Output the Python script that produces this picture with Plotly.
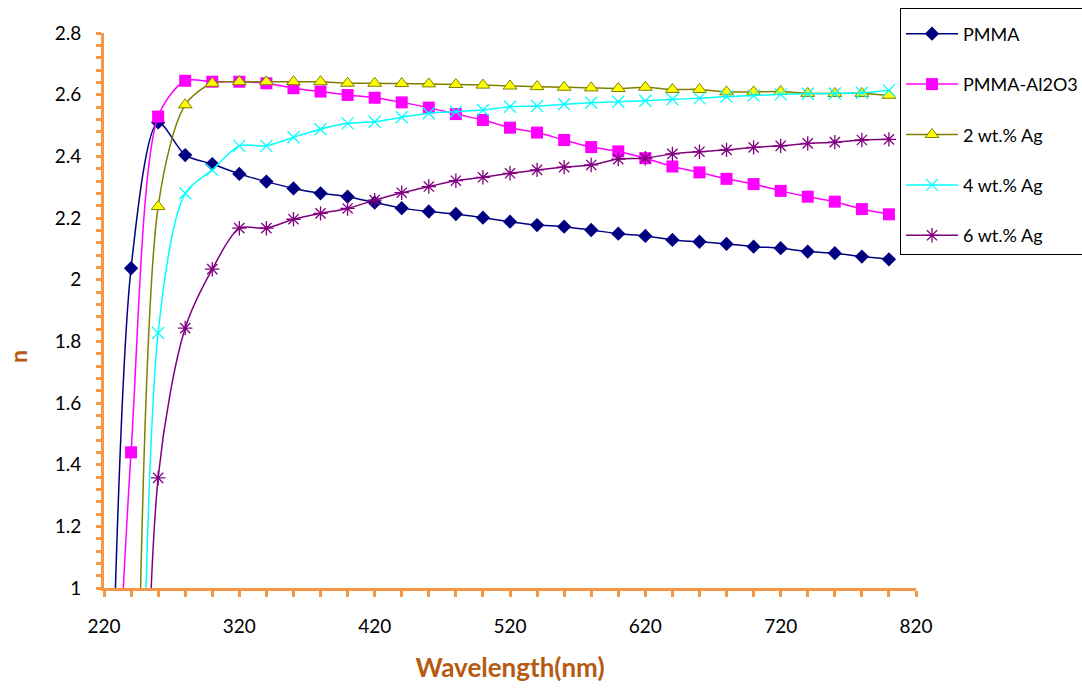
import plotly.graph_objects as go

# Wavelength (nm) grids
wl_a = [220, 240, 260, 280, 300, 320, 340, 360, 380, 400, 420, 440, 460, 480, 500,
        520, 540, 560, 580, 600, 620, 640, 660, 680, 700, 720, 740, 760, 780, 800]
wl_b = wl_a[1:]

# Refractive index n (values below 1 fall outside the displayed axis range)
n_pmma = [-0.5, 2.037, 2.51, 2.404, 2.375, 2.343, 2.318, 2.296, 2.28, 2.269, 2.25,
          2.232, 2.221, 2.213, 2.201, 2.188, 2.177, 2.172, 2.161, 2.149, 2.142, 2.129,
          2.123, 2.116, 2.107, 2.102, 2.091, 2.086, 2.075, 2.066]
n_pmma_al2o3 = [-0.3, 1.44, 2.529, 2.645, 2.642, 2.642, 2.637, 2.621, 2.61, 2.599,
                2.59, 2.575, 2.558, 2.537, 2.518, 2.493, 2.477, 2.453, 2.43, 2.416,
                2.394, 2.367, 2.348, 2.327, 2.31, 2.288, 2.269, 2.253, 2.229, 2.212]
n_ag2 = [-1.2, 2.237, 2.567, 2.637, 2.642, 2.642, 2.642, 2.642, 2.637, 2.637, 2.636,
         2.635, 2.633, 2.631, 2.628, 2.626, 2.624, 2.622, 2.62, 2.624, 2.617, 2.617,
         2.609, 2.609, 2.61, 2.604, 2.604, 2.604, 2.598]
n_ag4 = [-2.4, 1.827, 2.28, 2.356, 2.434, 2.434, 2.462, 2.488, 2.507, 2.512, 2.527,
         2.54, 2.545, 2.55, 2.561, 2.563, 2.569, 2.574, 2.577, 2.58, 2.585, 2.588,
         2.594, 2.597, 2.601, 2.603, 2.604, 2.606, 2.614]
n_ag6 = [-2.2, 1.357, 1.843, 2.034, 2.167, 2.167, 2.196, 2.215, 2.231, 2.258, 2.282,
         2.302, 2.321, 2.332, 2.345, 2.356, 2.365, 2.372, 2.391, 2.394, 2.408, 2.415,
         2.421, 2.429, 2.434, 2.442, 2.446, 2.453, 2.455]

AXIS = "#F79646"
TITLE = "#B65A12"
FONT = "Lato"

series = [
    ("PMMA", wl_a, n_pmma, "#000080", dict(symbol="diamond", size=11, color="#000080")),
    ("PMMA-Al2O3", wl_a, n_pmma_al2o3, "#FF00FF", dict(symbol="square", size=12, color="#FF00FF")),
    ("2 wt.% Ag", wl_b, n_ag2, "#808000",
     dict(symbol="triangle-up", size=12, color="#FFFF00", line=dict(color="#808000", width=1))),
    ("4 wt.% Ag", wl_b, n_ag4, "#00FFFF",
     dict(symbol="x-thin-open", size=12, color="#00FFFF", line=dict(color="#00FFFF", width=1.3))),
    ("6 wt.% Ag", wl_b, n_ag6, "#800080",
     dict(symbol="asterisk-open", size=12, color="#800080", line=dict(color="#800080", width=1.3))),
]

fig = go.Figure()
for i, (name, x, y, col, mk) in enumerate(series):
    fig.add_trace(go.Scatter(
        x=x, y=y, name=name, mode="lines+markers",
        line=dict(color=col, width=1.5, shape="spline", smoothing=0.8),
        marker=mk, legendgroup=f"g{i}",
    ))

W, H = 1082, 690
fig.update_layout(
    width=W, height=H,
    margin=dict(l=104, r=166, t=33, b=102, autoexpand=False),
    paper_bgcolor="white", plot_bgcolor="white",
    font=dict(family=FONT, size=18, color="black"),
    showlegend=True,
    legend=dict(
        xref="container", yref="container", x=900 / W, y=1 - 8 / H,
        xanchor="left", yanchor="top",
        bordercolor="black", borderwidth=1, bgcolor="white",
        font=dict(family=FONT, size=18, color="black"),
        title=dict(text=" ", font=dict(size=5)),
        tracegroupgap=24, itemwidth=52, traceorder="grouped",
    ),
    xaxis=dict(
        range=[220, 820], tick0=220, dtick=100, showgrid=False, zeroline=False,
        showline=True, linecolor=AXIS, linewidth=3,
        ticks="outside", ticklen=6, tickwidth=2.5, tickcolor=AXIS,
        ticklabelstandoff=13,
        minor=dict(dtick=20, ticks="outside", ticklen=6, tickwidth=2.5, tickcolor=AXIS),
        tickfont=dict(family=FONT, size=19, color="black"),
        title=dict(text="<b>Wavelength(nm)</b>", standoff=24,
                   font=dict(family=FONT, size=26, color=TITLE)),
    ),
    yaxis=dict(
        range=[1, 2.8], tick0=1, dtick=0.2, showgrid=False, zeroline=False,
        showline=True, linecolor=AXIS, linewidth=3,
        ticks="outside", ticklen=5, tickwidth=2.5, tickcolor=AXIS,
        ticklabelstandoff=11,
        minor=dict(dtick=0.04, ticks="outside", ticklen=5, tickwidth=2.5, tickcolor=AXIS),
        tickfont=dict(family=FONT, size=19, color="black"),
    ),
    annotations=[dict(
        text="<b>n</b>", textangle=-90, showarrow=False,
        xref="paper", yref="paper", x=(18 - 104) / 812, y=(588 - 357) / 555,
        xanchor="center", yanchor="middle",
        font=dict(family=FONT, size=23, color=TITLE),
    )],
)

fig.write_html("out.html", config={"displayModeBar": False},
               post_script="document.body.style.margin='0';")
